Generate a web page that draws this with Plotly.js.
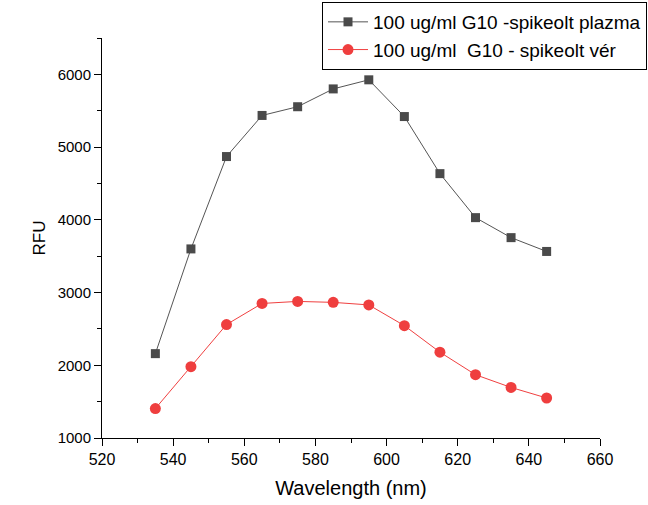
<!DOCTYPE html>
<html>
<head>
<meta charset="utf-8">
<script src="https://cdn.plot.ly/plotly-3.0.1.min.js"></script>
<style>
  html, body { margin: 0; padding: 0; background: #fff; }
  #chart { width: 648px; height: 505px; }
</style>
</head>
<body>
<div id="chart"></div>
<script>
// Emission wavelengths (nm)
const wavelength = [535, 545, 555, 565, 575, 585, 595, 605, 615, 625, 635, 645];

// Fluorescence intensity (RFU) for each spiked matrix
const plazmaRFU = [2160, 3600, 4870, 5435, 5555, 5800, 5925, 5420, 4635, 4030, 3755, 3565];
const verRFU    = [1405, 1980, 2560, 2850, 2878, 2865, 2830, 2545, 2180, 1870, 1695, 1550];

const seriesNames = ['100 ug/ml G10 -spikeolt plazma', '100 ug/ml  G10 - spikeolt vér'];

const font = 'Arial, "Liberation Sans", sans-serif';

const traces = [
  {
    x: wavelength, y: plazmaRFU, name: seriesNames[0],
    type: 'scatter', mode: 'lines+markers',
    line: { color: '#555555', width: 1 },
    marker: { symbol: 'square', size: 9, color: '#4a4a4a' }
  },
  {
    x: wavelength, y: verRFU, name: seriesNames[1],
    type: 'scatter', mode: 'lines+markers',
    line: { color: '#f04040', width: 1 },
    marker: { symbol: 'circle', size: 11, color: '#ef3e3e' }
  }
];

const axisCommon = {
  showgrid: false, zeroline: false,
  showline: true, linecolor: '#000', linewidth: 1,
  ticks: 'outside', ticklen: 7, tickwidth: 1, tickcolor: '#000',
  minor: { ticks: 'outside', ticklen: 4, tickwidth: 1, tickcolor: '#000', showgrid: false }
};

const layout = {
  width: 648, height: 505,
  paper_bgcolor: '#fff', plot_bgcolor: '#fff',
  margin: { l: 102, r: 48, t: 38, b: 67, autoexpand: false },
  font: { family: font, color: '#000' },
  showlegend: true,
  xaxis: Object.assign({}, axisCommon, {
    range: [520, 660], dtick: 20, tick0: 520,
    minor: Object.assign({}, axisCommon.minor, { dtick: 10 }),
    tickfont: { size: 16, family: font },
    title: { text: 'Wavelength (nm)', font: { size: 20, family: font }, standoff: 13 }
  }),
  yaxis: Object.assign({}, axisCommon, {
    range: [1000, 6500], dtick: 1000, tick0: 1000,
    minor: Object.assign({}, axisCommon.minor, { dtick: 500 }),
    tickfont: { size: 15, family: font },
    title: { text: 'RFU', font: { size: 17, family: font }, standoff: 7 }
  }),
  legend: {
    x: (322 - 102) / 498, y: (438 - 2) / 400, xanchor: 'left', yanchor: 'top',
    bgcolor: '#fff', bordercolor: '#000', borderwidth: 1,
    font: { size: 19, family: font },
    itemwidth: 40,
    tracegroupgap: 0
  }
};

Plotly.newPlot('chart', traces, layout, { staticPlot: true, displayModeBar: false });
</script>
</body>
</html>
